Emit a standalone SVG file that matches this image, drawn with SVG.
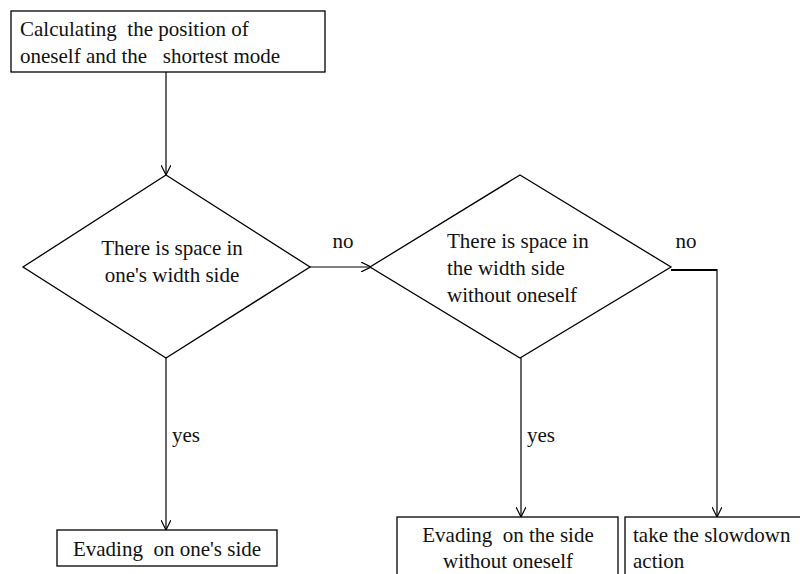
<svg xmlns="http://www.w3.org/2000/svg" width="800" height="574" viewBox="0 0 800 574">
<defs>
<style>
.box{fill:#fff;stroke:#000;stroke-width:1.3}
.t{font-family:"Liberation Serif","Times New Roman",serif;font-size:21px;fill:#111;white-space:pre}
.c{text-anchor:middle}
.ln{fill:none;stroke:#000;stroke-width:1.2}
</style>
<marker id="ah" viewBox="0 0 10 10" refX="10" refY="5" markerWidth="10" markerHeight="10" markerUnits="userSpaceOnUse" orient="auto">
<path d="M0,0 L10,5 L0,10" fill="none" stroke="#000" stroke-width="1.2"/>
</marker>
</defs>
<rect width="800" height="574" fill="#fff"/>
<g id="connectors">
<line class="ln" x1="166" y1="72" x2="166" y2="175" marker-end="url(#ah)"/>
<line class="ln" x1="310" y1="267" x2="371" y2="267" marker-end="url(#ah)"/>
<line class="ln" x1="166" y1="358" x2="166" y2="530" marker-end="url(#ah)"/>
<line class="ln" x1="521" y1="358" x2="521" y2="517" marker-end="url(#ah)"/>
<polyline points="671,270 717,270" fill="none" stroke="#000" stroke-width="2"/>
<line class="ln" x1="717" y1="269" x2="717" y2="517" stroke="#333" marker-end="url(#ah)"/>
<text class="t c" x="343" y="248">no</text>
<text class="t c" x="686" y="248">no</text>
<text class="t c" x="186" y="442">yes</text>
<text class="t c" x="541" y="442">yes</text>
</g>
<g id="start">
<rect class="box" x="11" y="11" width="314" height="61"/>
<text class="t" x="20" y="36" xml:space="preserve">Calculating  the position of</text>
<text class="t" x="20" y="63" xml:space="preserve">oneself and the   shortest mode</text>
</g>
<g id="decision1">
<polygon class="box" points="166,175 310,267 166,358 23,267"/>
<text class="t c" x="172" y="255">There is space in</text>
<text class="t c" x="172" y="282">one's width side</text>
</g>
<g id="decision2">
<polygon class="box" points="520,175 671,267 520,358 370,267"/>
<text class="t" x="447" y="248">There is space in</text>
<text class="t" x="447" y="275">the width side</text>
<text class="t" x="447" y="302">without oneself</text>
</g>
<g id="evade1">
<rect class="box" x="57" y="530" width="220" height="36"/>
<text class="t c" x="167" y="556" xml:space="preserve">Evading  on one's side</text>
</g>
<g id="evade2">
<rect class="box" x="397" y="517" width="221" height="70"/>
<text class="t c" x="508" y="542" xml:space="preserve">Evading  on the side</text>
<text class="t c" x="508" y="568">without oneself</text>
</g>
<g id="slowdown">
<rect class="box" x="625" y="517" width="190" height="70"/>
<text class="t" x="633" y="542">take the slowdown</text>
<text class="t" x="633" y="568">action</text>
</g>
</svg>
